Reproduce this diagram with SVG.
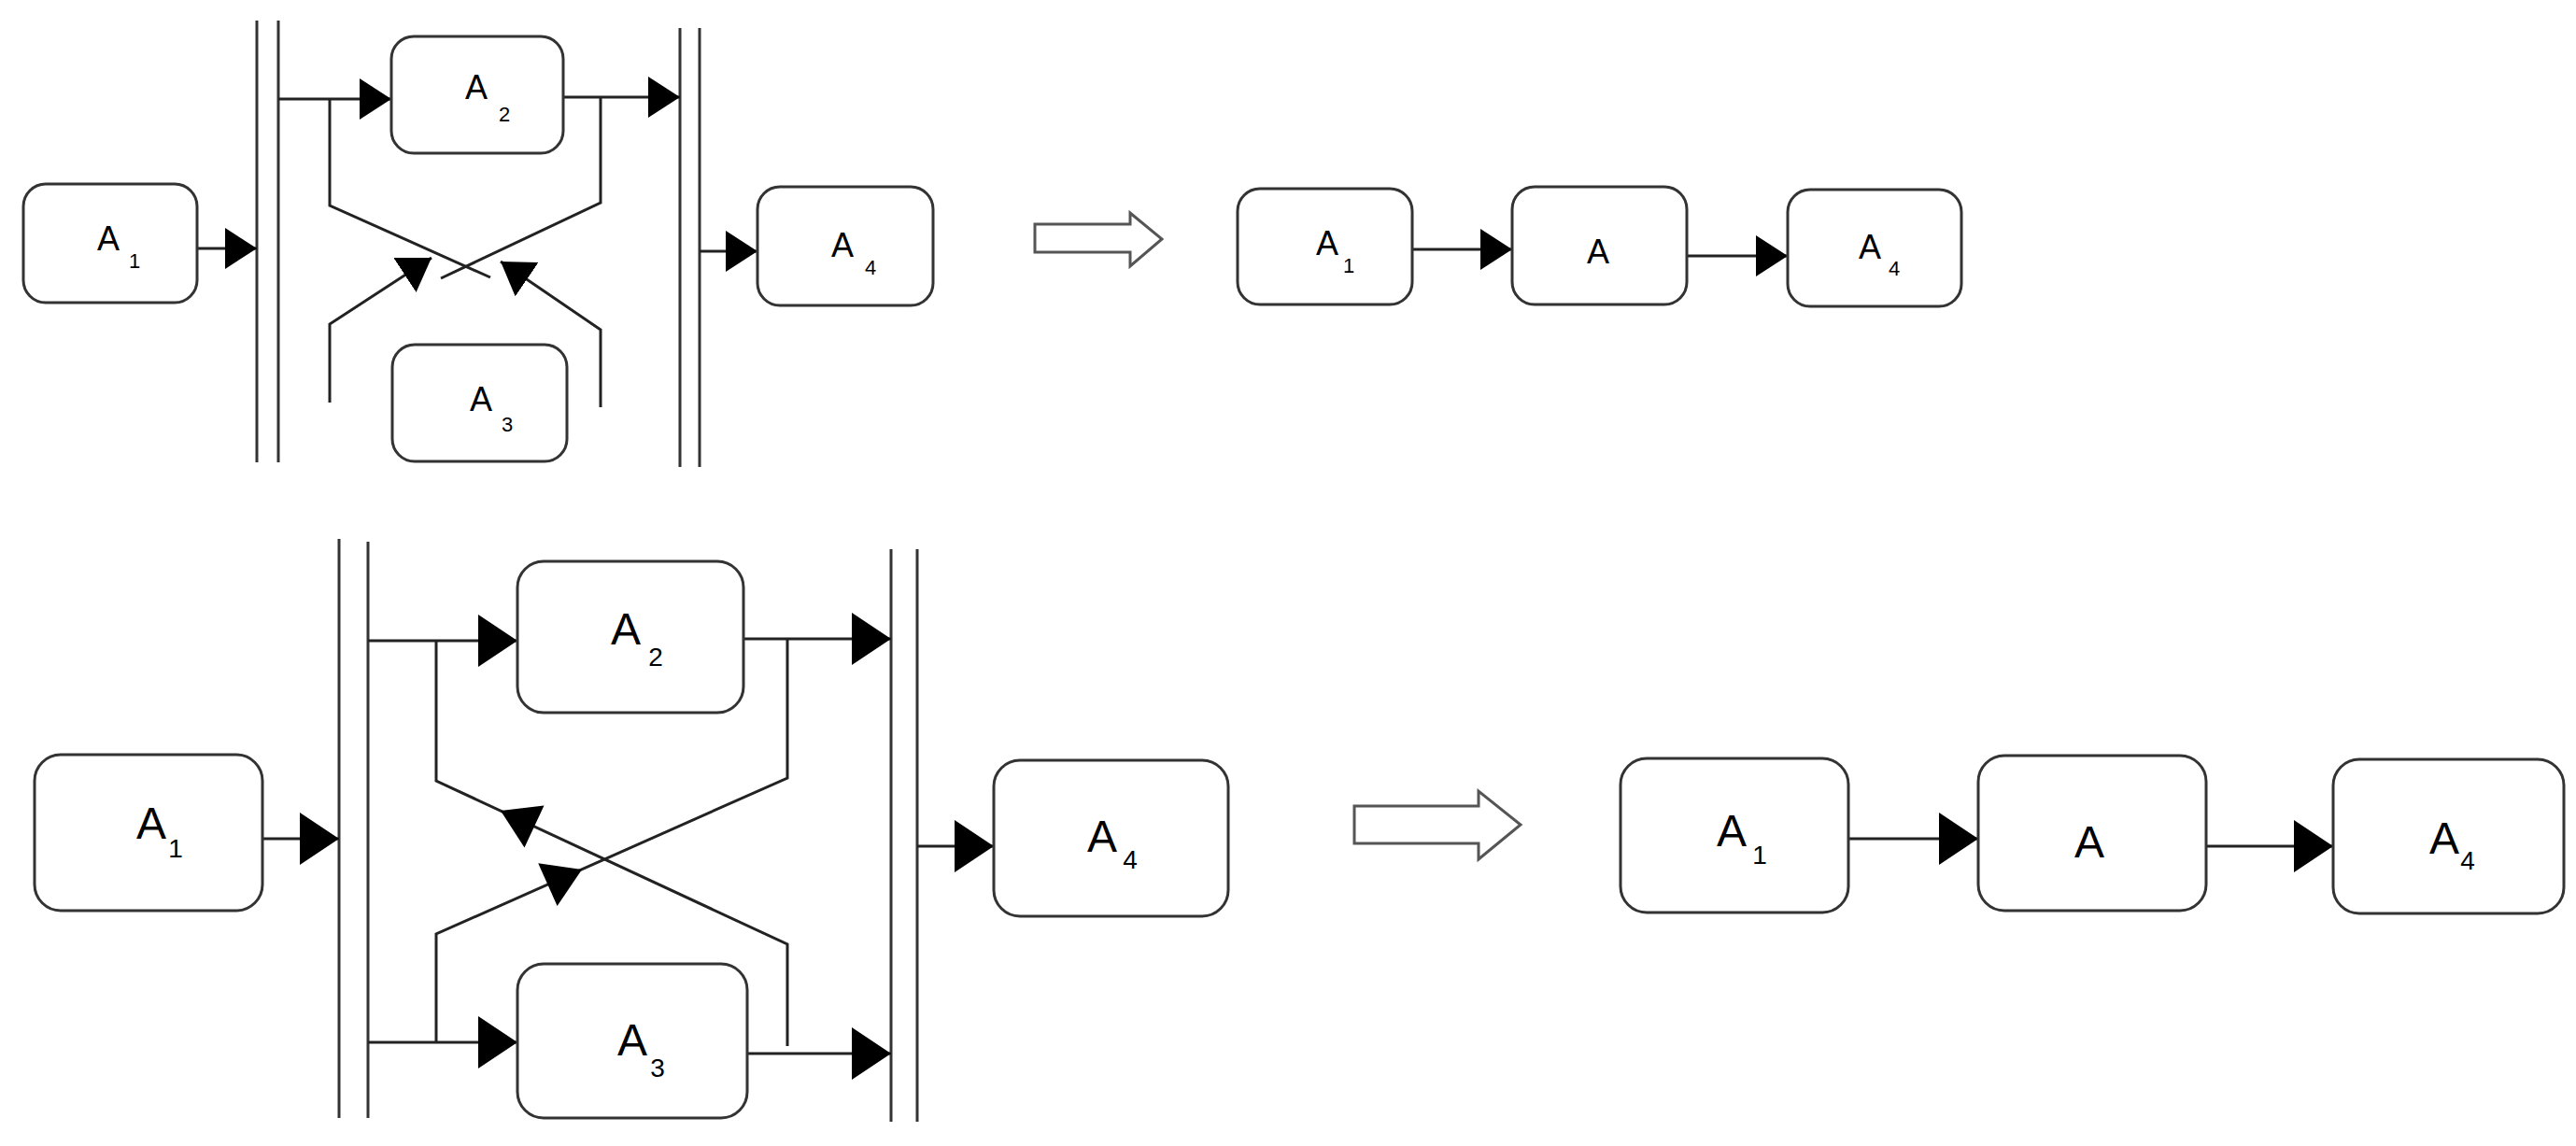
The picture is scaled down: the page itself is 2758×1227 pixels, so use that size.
<svg xmlns="http://www.w3.org/2000/svg" width="2758" height="1227" viewBox="0 0 2758 1227">
<style>
.box{fill:#fff;stroke:#333;stroke-width:3}
.bar{stroke:#333;stroke-width:3}
.ln{fill:none;stroke:#222;stroke-width:3}
.t{font-family:"Liberation Sans",Arial,sans-serif;fill:#000;text-anchor:middle}
.s{font-size:36px}.ss{font-size:22px}
.b{font-size:48px}.bs{font-size:28px}
.hollow{fill:#fff;stroke:#555;stroke-width:3}
</style>
<defs>
<marker id="ah" markerUnits="userSpaceOnUse" markerWidth="34" markerHeight="44" refX="34" refY="22" orient="auto"><path d="M0,0L34,22L0,44z" fill="#000"/></marker>
<marker id="ahb" markerUnits="userSpaceOnUse" markerWidth="42" markerHeight="56" refX="42" refY="28" orient="auto"><path d="M0,0L42,28L0,56z" fill="#000"/></marker>
</defs>
<rect width="2758" height="1227" fill="#fff"/>
<g id="bars">
<line class="bar" x1="275" y1="22" x2="275" y2="495"/><line class="bar" x1="298" y1="22" x2="298" y2="495"/>
<line class="bar" x1="728" y1="30" x2="728" y2="500"/><line class="bar" x1="749" y1="30" x2="749" y2="500"/>
<line class="bar" x1="363" y1="577" x2="363" y2="1197"/><line class="bar" x1="394" y1="580" x2="394" y2="1197"/>
<line class="bar" x1="954" y1="588" x2="954" y2="1201"/><line class="bar" x1="982" y1="588" x2="982" y2="1201"/>
</g>
<g id="connectors">
<path class="ln" d="M211,266H275" marker-end="url(#ah)"/>
<path class="ln" d="M749,269H811" marker-end="url(#ah)"/>
<path class="ln" d="M298,106H419" marker-end="url(#ah)"/>
<path class="ln" d="M603,104H728" marker-end="url(#ah)"/>
<path class="ln" d="M353,106V220L525,297"/>
<path class="ln" d="M643,104V217L472,298"/>
<path class="ln" d="M353,431V347L462,276" marker-end="url(#ah)"/>
<path class="ln" d="M643,436V353L536,280" marker-end="url(#ah)"/>
<path class="ln" d="M1512,267H1619" marker-end="url(#ah)"/>
<path class="ln" d="M1806,274H1914" marker-end="url(#ah)"/>
<path class="ln" d="M281,898H363" marker-end="url(#ahb)"/>
<path class="ln" d="M982,906H1064" marker-end="url(#ahb)"/>
<path class="ln" d="M394,686H554" marker-end="url(#ahb)"/>
<path class="ln" d="M796,684H954" marker-end="url(#ahb)"/>
<path class="ln" d="M394,1116H554" marker-end="url(#ahb)"/>
<path class="ln" d="M800,1128H954" marker-end="url(#ahb)"/>
<path class="ln" d="M467,686V836L843,1011V1120"/>
<path class="ln" d="M843,684V833L467,1000V1116"/>
<polygon points="536,868 582.5,862.4 561.5,907.6" fill="#000"/>
<polygon points="623,931 596.6,970.1 576.2,924.3" fill="#000"/>
<path class="ln" d="M1979,898H2118" marker-end="url(#ahb)"/>
<path class="ln" d="M2362,906H2498" marker-end="url(#ahb)"/>
</g>
<g id="implies-top"><polygon class="hollow" points="1108,240 1210,240 1210,228 1244,256 1210,285 1210,270 1108,270"/></g>
<g id="implies-bottom"><polygon class="hollow" points="1450,863 1583,863 1583,847 1628,883 1583,920 1583,903 1450,903"/></g>
<g id="t-A1"><rect class="box" x="25" y="197" width="186" height="127" rx="24"/><text class="t s" x="116" y="268">A</text><text class="t ss" x="144" y="287">1</text></g>
<g id="t-A2"><rect class="box" x="419" y="39" width="184" height="125" rx="24"/><text class="t s" x="510" y="106">A</text><text class="t ss" x="540" y="130">2</text></g>
<g id="t-A3"><rect class="box" x="420" y="369" width="187" height="125" rx="24"/><text class="t s" x="515" y="440">A</text><text class="t ss" x="543" y="462">3</text></g>
<g id="t-A4"><rect class="box" x="811" y="200" width="188" height="127" rx="24"/><text class="t s" x="902" y="275">A</text><text class="t ss" x="932" y="294">4</text></g>
<g id="tr-A1"><rect class="box" x="1325" y="202" width="187" height="124" rx="24"/><text class="t s" x="1421" y="273">A</text><text class="t ss" x="1444" y="292">1</text></g>
<g id="tr-A"><rect class="box" x="1619" y="200" width="187" height="126" rx="24"/><text class="t s" x="1711" y="282">A</text></g>
<g id="tr-A4"><rect class="box" x="1914" y="203" width="186" height="125" rx="24"/><text class="t s" x="2002" y="277">A</text><text class="t ss" x="2028" y="295">4</text></g>
<g id="b-A1"><rect class="box" x="37" y="808" width="244" height="167" rx="28"/><text class="t b" x="162" y="898">A</text><text class="t bs" x="188" y="918">1</text></g>
<g id="b-A2"><rect class="box" x="554" y="601" width="242" height="162" rx="28"/><text class="t b" x="670" y="690">A</text><text class="t bs" x="702" y="713">2</text></g>
<g id="b-A3"><rect class="box" x="554" y="1032" width="246" height="165" rx="28"/><text class="t b" x="677" y="1130">A</text><text class="t bs" x="704" y="1153">3</text></g>
<g id="b-A4"><rect class="box" x="1064" y="814" width="251" height="167" rx="28"/><text class="t b" x="1180" y="912">A</text><text class="t bs" x="1210" y="930">4</text></g>
<g id="br-A1"><rect class="box" x="1735" y="812" width="244" height="165" rx="28"/><text class="t b" x="1854" y="906">A</text><text class="t bs" x="1884" y="925">1</text></g>
<g id="br-A"><rect class="box" x="2118" y="809" width="244" height="166" rx="28"/><text class="t b" x="2237" y="918">A</text></g>
<g id="br-A4"><rect class="box" x="2498" y="813" width="247" height="165" rx="28"/><text class="t b" x="2617" y="914">A</text><text class="t bs" x="2642" y="931">4</text></g>
</svg>
